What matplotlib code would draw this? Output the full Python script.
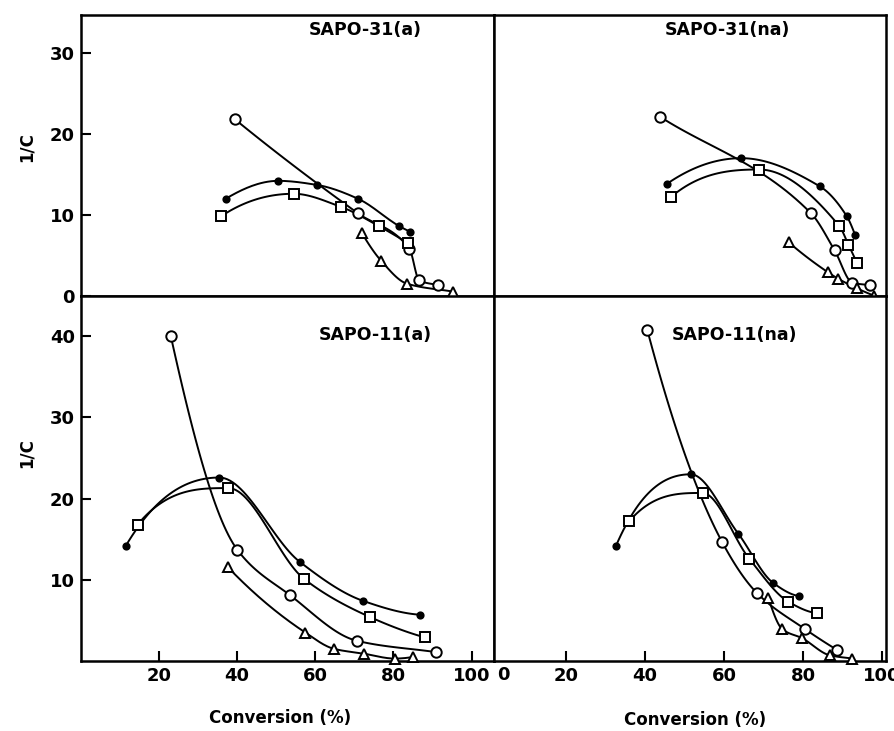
import numpy as np
import matplotlib.pyplot as plt

# SAPO-31(a)
a31_circ_x = [39.5, 70.9, 84.1, 86.6, 91.5]
a31_circ_y = [21.8, 10.2, 5.8, 1.9, 1.3]
a31_dot_x = [37.2, 50.6, 60.4, 70.9, 81.5, 84.3]
a31_dot_y = [12.0, 14.2, 13.7, 12.0, 8.6, 7.9]
a31_sq_x = [35.9, 54.5, 66.5, 76.3, 83.7]
a31_sq_y = [9.8, 12.6, 11.0, 8.6, 6.5]
a31_tri_x = [72.0, 76.9, 83.4, 95.3]
a31_tri_y = [7.7, 4.3, 1.5, 0.5]

# SAPO-31(na)
na31_circ_x = [43.9, 82.0, 88.0, 92.5, 97.0]
na31_circ_y = [22.1, 10.2, 5.6, 1.6, 1.3]
na31_dot_x = [45.5, 64.4, 84.3, 91.1, 93.2]
na31_dot_y = [13.8, 17.0, 13.5, 9.8, 7.5]
na31_sq_x = [46.6, 68.9, 89.2, 91.5, 93.7]
na31_sq_y = [12.2, 15.6, 8.6, 6.3, 4.0]
na31_tri_x = [76.4, 86.3, 88.9, 93.7, 98.0]
na31_tri_y = [6.6, 2.9, 2.1, 0.9, 0.0]

# SAPO-11(a)
a11_circ_x = [23.1, 40.1, 53.6, 70.6, 90.8]
a11_circ_y = [40.0, 13.7, 8.1, 2.5, 1.1]
a11_dot_x = [11.6, 35.5, 56.1, 72.3, 86.8]
a11_dot_y = [14.2, 22.6, 12.2, 7.4, 5.7]
a11_sq_x = [14.6, 37.8, 57.2, 74.1, 88.1]
a11_sq_y = [16.8, 21.3, 10.1, 5.4, 2.9]
a11_tri_x = [37.6, 57.5, 64.8, 72.5, 80.3, 85.0]
a11_tri_y = [11.6, 3.5, 1.5, 0.9, 0.3, 0.5]

# SAPO-11(na)
na11_circ_x = [40.6, 59.6, 68.3, 80.6, 88.5]
na11_circ_y = [40.8, 14.6, 8.4, 3.9, 1.4]
na11_dot_x = [32.7, 51.6, 63.6, 72.5, 79.1]
na11_dot_y = [14.2, 23.0, 15.7, 9.6, 8.0]
na11_sq_x = [36.0, 54.6, 66.4, 76.3, 83.5]
na11_sq_y = [17.2, 20.7, 12.6, 7.3, 5.9]
na11_tri_x = [71.2, 74.8, 79.8, 86.8, 92.5]
na11_tri_y = [7.8, 3.9, 2.8, 0.7, 0.3]

titles = ["SAPO-31(a)", "SAPO-31(na)", "SAPO-11(a)", "SAPO-11(na)"]
x_ticks = [20, 40, 60, 80, 100]
top_y_ticks = [0, 10, 20, 30]
bottom_y_ticks = [10, 20, 30, 40]


def smooth(x, y, n=30):
    # monotone cubic through the points, only for drawing the line
    x = np.asarray(x, float)
    y = np.asarray(y, float)
    if len(x) < 3:
        return x, y
    h = np.diff(x)
    d = np.diff(y) / h
    m = np.zeros(len(x))
    for k in range(1, len(x) - 1):
        if d[k - 1] * d[k] > 0:
            w1 = 2 * h[k] + h[k - 1]
            w2 = h[k] + 2 * h[k - 1]
            m[k] = (w1 + w2) / (w1 / d[k - 1] + w2 / d[k])

    def end(h0, h1, d0, d1):
        v = ((2 * h0 + h1) * d0 - h0 * d1) / (h0 + h1)
        if np.sign(v) != np.sign(d0):
            return d0  # fall back to the chord
        if np.sign(d0) != np.sign(d1) and abs(v) > 3 * abs(d0):
            return 3 * d0
        return v

    m[0] = end(h[0], h[1], d[0], d[1])
    m[-1] = end(h[-1], h[-2], d[-1], d[-2])
    xs, ys = [], []
    for k in range(len(x) - 1):
        t = np.linspace(0, 1, n, endpoint=False)
        h00 = 2 * t ** 3 - 3 * t ** 2 + 1
        h10 = t ** 3 - 2 * t ** 2 + t
        h01 = -2 * t ** 3 + 3 * t ** 2
        h11 = t ** 3 - t ** 2
        xs.append(x[k] + t * h[k])
        ys.append(h00 * y[k] + h10 * h[k] * m[k] + h01 * y[k + 1] + h11 * h[k] * m[k + 1])
    xs.append(x[-1:])
    ys.append(y[-1:])
    return np.concatenate(xs), np.concatenate(ys)


def draw_panel(ax, series):
    styles = {
        "circ": dict(marker="o", ms=7.5, mfc="white"),
        "dot": dict(marker="o", ms=4.5, mfc="black"),
        "sq": dict(marker="s", ms=6.5, mfc="white"),
        "tri": dict(marker="^", ms=6.5, mfc="white"),
    }
    for key, (x, y) in series.items():
        sx, sy = smooth(x, y)
        ax.plot(sx, sy, color="black", lw=1.4, zorder=2, clip_on=False)
        ax.plot(x, y, ls="none", color="black", mec="black", mew=1.4,
                zorder=3, clip_on=False, **styles[key])


plt.rcParams["font.family"] = ["DejaVu Sans"]
plt.rcParams["font.weight"] = "bold"

fig = plt.figure(figsize=(8.94, 7.31), dpi=100)

W, H = 894, 731
xl, xm, xr = 80.5, 493.5, 886
yt, ym, yb = 15, 295.7, 661


def box(x0, x1, y0, y1):
    return [x0 / W, 1 - y1 / H, (x1 - x0) / W, (y1 - y0) / H]


ax_tl = fig.add_axes(box(xl, xm, yt, ym))
ax_tr = fig.add_axes(box(xm, xr, yt, ym))
ax_bl = fig.add_axes(box(xl, xm, ym, yb))
ax_br = fig.add_axes(box(xm, xr, ym, yb))

panels = [
    (ax_tl, {"circ": (a31_circ_x, a31_circ_y), "dot": (a31_dot_x, a31_dot_y),
             "sq": (a31_sq_x, a31_sq_y), "tri": (a31_tri_x, a31_tri_y)}),
    (ax_tr, {"circ": (na31_circ_x, na31_circ_y), "dot": (na31_dot_x, na31_dot_y),
             "sq": (na31_sq_x, na31_sq_y), "tri": (na31_tri_x, na31_tri_y)}),
    (ax_bl, {"circ": (a11_circ_x, a11_circ_y), "dot": (a11_dot_x, a11_dot_y),
             "sq": (a11_sq_x, a11_sq_y), "tri": (a11_tri_x, a11_tri_y)}),
    (ax_br, {"circ": (na11_circ_x, na11_circ_y), "dot": (na11_dot_x, na11_dot_y),
             "sq": (na11_sq_x, na11_sq_y), "tri": (na11_tri_x, na11_tri_y)}),
]

for ax, series in panels:
    draw_panel(ax, series)
    for s in ax.spines.values():
        s.set_linewidth(1.8)
    ax.tick_params(direction="in", length=7, width=1.5, labelsize=13, pad=4)

# limits
ax_tl.set_xlim(0, 105.6)
ax_bl.set_xlim(0, 105.6)
ax_tr.set_xlim(1.7, 101)
ax_br.set_xlim(1.7, 101)
ax_tl.set_ylim(0, 34.7)
ax_tr.set_ylim(0, 34.7)
ax_bl.set_ylim(0, 45)
ax_br.set_ylim(0, 45)

ax_tl.set_yticks(top_y_ticks)
ax_bl.set_yticks(bottom_y_ticks)
ax_tl.set_xticks([])
ax_tr.set_xticks([])
ax_tr.set_yticks([])
ax_br.set_yticks([])
ax_bl.set_xticks(x_ticks)
ax_br.set_xticks(x_ticks)
# the right panel's "0" sits just past the middle line
fig.text(503 / W, 1 - 675 / H, "0", fontsize=13, ha="center", va="center")

# panel titles
ax_tl.text(0.689, 0.947, titles[0], transform=ax_tl.transAxes, fontsize=12.5,
           ha="center", va="center")
ax_tr.text(0.597, 0.947, titles[1], transform=ax_tr.transAxes, fontsize=12.5,
           ha="center", va="center")
ax_bl.text(0.713, 0.892, titles[2], transform=ax_bl.transAxes, fontsize=12.5,
           ha="center", va="center")
ax_br.text(0.615, 0.892, titles[3], transform=ax_br.transAxes, fontsize=12.5,
           ha="center", va="center")

# axis labels
fig.text(27 / W, 1 - 147 / H, "1/C", rotation=90, fontsize=12, ha="center", va="center")
fig.text(27 / W, 1 - 453 / H, "1/C", rotation=90, fontsize=12, ha="center", va="center")
fig.text(280 / W, 1 - 718 / H, "Conversion (%)", fontsize=12, ha="center", va="center")
fig.text(695 / W, 1 - 720 / H, "Conversion (%)", fontsize=12, ha="center", va="center")

fig.savefig("out.png", dpi=100)
